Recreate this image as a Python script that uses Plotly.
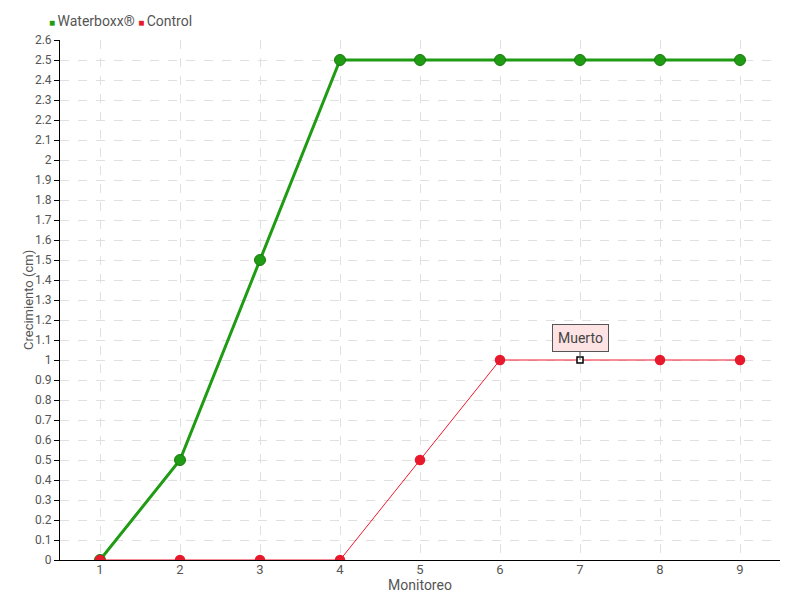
import plotly.graph_objects as go

monitoreo = [1, 2, 3, 4, 5, 6, 7, 8, 9]
waterboxx = [0, 0.5, 1.5, 2.5, 2.5, 2.5, 2.5, 2.5, 2.5]
control = [0, 0, 0, 0, 0.5, 1, 1, 1, 1]
y_ticks = [round(i * 0.1, 1) for i in range(27)]
y_labels = [("%g" % v) for v in y_ticks]
note_index = 6
note_text = "Muerto"
series_names = ["Waterboxx®", "Control"]
series_colors = ["#1f9b14", "#e8192c"]
y_title = "Crecimiento (cm)"
x_title = "Monitoreo"

FONT = "Roboto, sans-serif"

ctrl_symbols = ["circle"] * len(control)
ctrl_symbols[note_index] = "square"
ctrl_colors = [series_colors[1]] * len(control)
ctrl_colors[note_index] = "white"
ctrl_line_colors = [series_colors[1]] * len(control)
ctrl_line_colors[note_index] = "black"
ctrl_sizes = [9] * len(control)
ctrl_sizes[note_index] = 6

fig = go.Figure()
fig.add_trace(go.Scatter(
    x=monitoreo, y=waterboxx, name=series_names[0], mode="lines+markers",
    showlegend=False,
    line=dict(color=series_colors[0], width=3),
    marker=dict(size=11, color=series_colors[0], line=dict(color="#187a10", width=1)),
))
fig.add_trace(go.Scatter(
    x=monitoreo, y=control, name=series_names[1], mode="lines+markers",
    showlegend=False,
    line=dict(color="#f0192e", width=1),
    marker=dict(size=ctrl_sizes, color=ctrl_colors, symbol=ctrl_symbols, opacity=1,
                line=dict(color=ctrl_line_colors, width=1.5)),
))

# legend as compact text with coloured square swatches
legend_text = " ".join(
    "<span style='color:%s;font-size:10px'>■ </span>%s" % (c, n)
    for n, c in zip(series_names, series_colors)
)
fig.add_annotation(
    xref="paper", yref="paper", x=-0.018, y=1.0, yshift=9,
    xanchor="left", yanchor="bottom", showarrow=False,
    text=legend_text, font=dict(family=FONT, size=14, color="#555"),
)

# y axis title placed close to the tick labels
fig.add_annotation(
    xref="paper", yref="paper", x=0, y=0.5, xshift=-32,
    xanchor="center", yanchor="middle", showarrow=False, textangle=-90,
    text=y_title, font=dict(family=FONT, size=13, color="#555"),
)

fig.add_annotation(
    x=monitoreo[note_index], y=control[note_index], text=note_text,
    showarrow=True, arrowhead=0, arrowwidth=1, arrowcolor="#555",
    ax=0, ay=-22, bgcolor="#fde3e3", bordercolor="#555", borderwidth=1,
    borderpad=5, font=dict(family=FONT, size=14, color="#444"),
)

grid = dict(showgrid=True, gridcolor="#e0e0e0", griddash="dash", gridwidth=1)
fig.update_layout(
    width=792, height=592,
    margin=dict(l=52, r=20, t=32, b=40, autoexpand=False),
    paper_bgcolor="white", plot_bgcolor="white",
    font=dict(family=FONT, size=14, color="#555"),
    showlegend=False,
    xaxis=dict(range=[0.5, 9.5], tickmode="array", tickvals=monitoreo,
               ticktext=[str(v) for v in monitoreo],
               showline=True, linecolor="black", linewidth=1,
               ticks="", ticklen=0, zeroline=False, automargin=False,
               ticklabelstandoff=-3, tickfont=dict(size=13),
               title=dict(text=x_title, standoff=0, font=dict(size=14)),
               **grid),
    yaxis=dict(range=[0, 2.6], tickmode="array", tickvals=y_ticks, ticktext=y_labels,
               showline=True, linecolor="black", linewidth=1,
               ticks="outside", ticklen=5, tickcolor="black", zeroline=False,
               automargin=False, tickfont=dict(size=12),
               **grid),
)

fig.write_html("out.html")
